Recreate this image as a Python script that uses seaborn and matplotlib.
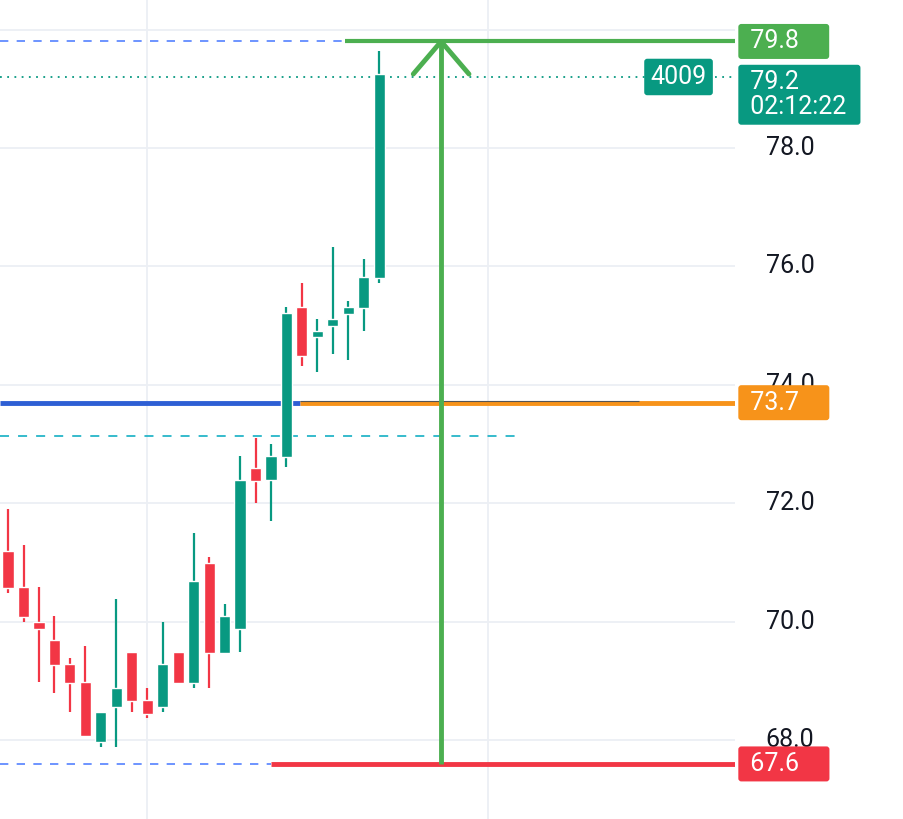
import matplotlib
matplotlib.use("Agg")
import matplotlib.pyplot as plt
import matplotlib.transforms as mtransforms
import seaborn as sns
import numpy as np

opens  = [71.19,70.58,69.99,69.69,69.28,68.98,67.97,68.56,69.49,68.68,68.56,69.49,68.96,70.99,69.47,69.875,72.59,72.39,72.78,75.31,74.81,74.99,75.20,75.30,75.80]
highs  = [71.90,71.29,70.58,70.09,69.39,69.59,68.47,70.38,69.49,68.88,69.99,69.49,71.50,71.09,70.30,72.80,73.10,73.00,75.31,75.72,75.11,76.33,75.42,76.13,79.64]
lows   = [70.48,69.99,68.98,68.79,68.47,68.07,67.88,67.88,68.47,68.37,68.47,68.96,68.88,68.88,69.47,69.49,72.00,71.70,72.61,74.32,74.22,74.52,74.42,74.91,75.72]
closes = [70.57,70.08,69.875,69.27,68.96,68.07,68.47,68.88,68.66,68.45,69.28,68.96,70.69,69.47,70.09,72.39,72.37,72.80,75.21,74.49,74.91,75.11,75.31,75.82,79.25]
yticks = [68.0, 70.0, 72.0, 74.0, 76.0, 78.0]
target_price = 79.8
last_price = 79.2
entry_price = 73.7
stop_price = 67.6
cyan_level = 73.14
countdown = "02:12:22"
volume_label = "4009"

UP, DN = "#089981", "#f23645"
sns.set_theme(style="white")
plt.rcParams['font.family'] = ['Roboto', 'DejaVu Sans']
fig = plt.figure(figsize=(9.04, 8.19), dpi=100)
ax = fig.add_axes([0, 0, 735/904, 1])
x = np.arange(len(opens))
cols = [UP if c >= o else DN for o, c in zip(opens, closes)]
ax.vlines(x, lows, highs, colors=cols, linewidth=1.6, zorder=3)
bodies = [max(abs(c-o), 0.06) for o, c in zip(opens, closes)]
ax.bar(x, bodies, bottom=np.minimum(opens, closes), width=0.72, color=cols, zorder=4)

ax.set_xlim(-0.52, 47.0)
ax.set_ylim(66.67, 80.5)
for t in yticks + [80.0]:
    ax.axhline(t, color="#eceff4", lw=1.3, zorder=0)
for gx in [9.0, 31.0]:
    ax.axvline(gx, color="#eceff4", lw=1.3, zorder=0)
for s in ax.spines.values():
    s.set_visible(False)
ax.set_xticks([]); ax.set_yticks([])

ax.hlines(target_price, -0.52, 21.8, colors="#2962ff", linestyles=(0, (5, 5)), lw=1.2, alpha=0.8)
ax.hlines(target_price, 21.8, 47, colors="#4caf50", lw=3)
ax.hlines(last_price, -0.52, 47, colors="#089981", linestyles=(0, (1, 3)), lw=1.3)
ax.hlines(entry_price, -0.52, 18.9, colors="#2e5fd4", lw=3.5, zorder=2)
ax.hlines(entry_price, 18.9, 47, colors="#f7931a", lw=3.5, zorder=2)
ax.hlines(entry_price + 0.03, 18.9, 40.8, colors="#555555", lw=0.8, zorder=2)
ax.hlines(cyan_level, -0.52, 32.8, colors="#26b5c8", linestyles=(0, (5, 5)), lw=1.3)
ax.hlines(stop_price, -0.52, 17, colors="#2962ff", linestyles=(0, (5, 5)), lw=1.2, alpha=0.8)
ax.hlines(stop_price, 17, 47, colors="#f23645", lw=3.5)
ax.vlines(28, stop_price, target_price, colors="#4caf50", lw=3.5, zorder=5)
ax.plot([26.2, 28, 29.8], [79.25, target_price, 79.25], color="#4caf50", lw=3.5, zorder=5, solid_capstyle="round")

tr = mtransforms.blended_transform_factory(ax.transAxes, ax.transData)
for t in yticks:
    ax.text(1.075, t, f"{t:.1f}", transform=tr, fontsize=18, color="#131722", ha="center", va="center", clip_on=False, zorder=1)

def badge(y, txt, col, x0=1.012, fs=18):
    ax.text(x0, y, txt, transform=tr, fontsize=fs, color="white", ha="left", va="center",
            clip_on=False, zorder=10, linespacing=1.05,
            bbox=dict(boxstyle="round,pad=0.22,rounding_size=0.12", fc=col, ec="none"))

badge(target_price, " 79.8    ", "#4caf50")
badge(last_price - 0.3, " 79.2         \n 02:12:22 ", "#089981")
ax.text(0.885, last_price, volume_label, transform=tr, fontsize=18, color="white", ha="left", va="center",
        clip_on=False, zorder=10, bbox=dict(boxstyle="round,pad=0.25,rounding_size=0.12", fc="#089981", ec="none"))
badge(entry_price, " 73.7    ", "#f7931a")
badge(stop_price, " 67.6    ", "#f23645")

fig.savefig("out.png", dpi=100)
